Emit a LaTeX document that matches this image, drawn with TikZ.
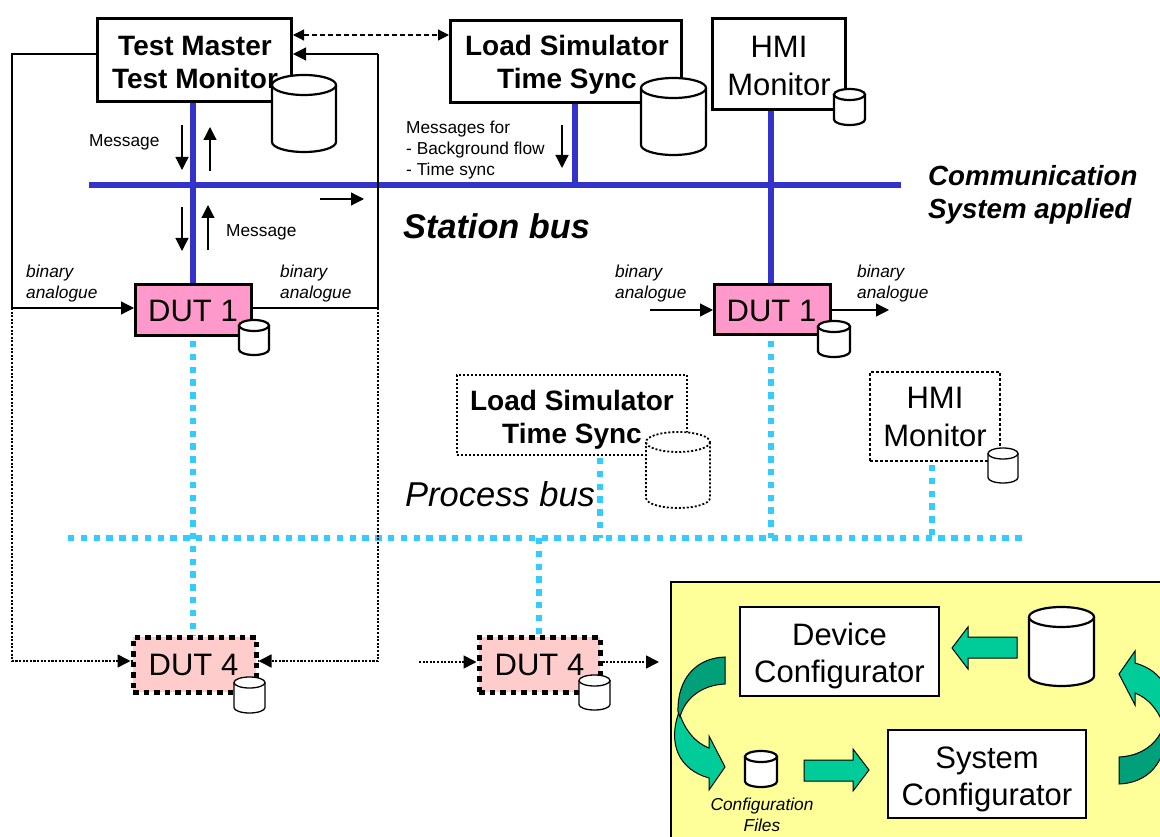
\documentclass[tikz,border=0pt]{standalone}
\usepackage{fontspec}
\setmainfont{Liberation Sans}
\usetikzlibrary{arrows.meta}
\definecolor{busblue}{HTML}{3333CC}
\definecolor{buscyan}{HTML}{33CCFF}
\definecolor{dutpink}{HTML}{FF99CC}
\definecolor{dutrose}{HTML}{FFCCCC}
\definecolor{cfgyellow}{HTML}{FFFF99}
\definecolor{arrowlight}{HTML}{00CC99}
\definecolor{arrowdark}{HTML}{00A07A}
\tikzset{
  tip/.style={-{Triangle[length=13pt,width=13pt]}},
  thinline/.style={draw=black,line width=1.2pt},
  flow/.style={thinline,tip},
  dotline/.style={draw=black,line width=1.6pt,dash pattern=on 2pt off 1.6pt},
  stationbus/.style={draw=busblue,line width=6pt},
  processbus/.style={draw=buscyan,line width=6pt,dash pattern=on 6.4pt off 6.4pt},
  boxbase/.style={draw=black,fill=white,inner sep=0pt},
  solidframe/.style={boxbase,line width=3pt},
  dotframe/.style={boxbase,line width=1.8pt,dash pattern=on 2pt off 2pt},
  dashframe/.style={boxbase,line width=1.8pt,dash pattern=on 3pt off 2pt},
  dutone/.style={boxbase,fill=dutpink,line width=3pt},
  dutfour/.style={boxbase,fill=dutrose,line width=5pt,dash pattern=on 5.5pt off 5pt},
  cfgbox/.style={boxbase,line width=1.2pt},
  boldtext/.style={inner sep=0pt,align=center,font=\fontsize{28}{33}\selectfont\bfseries},
  bigtext/.style={inner sep=0pt,align=center,font=\fontsize{31}{38}\selectfont},
  cfgtext/.style={inner sep=0pt,align=center,font=\fontsize{31}{37}\selectfont},
  small/.style={inner sep=0pt,anchor=west,align=left,font=\fontsize{17.3}{21}\selectfont},
  smallit/.style={small,font=\fontsize{17.3}{21}\selectfont\itshape},
  blockarrow/.style={draw=black,line width=1pt,fill=arrowlight,line join=miter},
  blockdark/.style={draw=black,line width=1pt,fill=arrowdark,line join=miter},
  cyl/.style={draw=black,fill=white,line width=2.2pt},
  cylthin/.style={draw=black,fill=white,line width=1.3pt},
  cyldot/.style={draw=black,fill=white,line width=1.8pt,dash pattern=on 2pt off 2pt},
}
% left x, top y, width, height, cap half height, style
\newcommand{\drum}[6]{%
  \path[#6] (#1,#2+#5) -- (#1,#2+#4-#5) arc[start angle=180,end angle=0,x radius=#3/2,y radius=#5]
     -- (#1+#3,#2+#5);
  \path[#6] (#1+#3/2,#2+#5) circle[x radius=#3/2,y radius=#5];
}
\begin{document}
\begin{tikzpicture}[x=1pt,y=-1pt]
\useasboundingbox (0,0) rectangle (1160,837);
\clip (0,0) rectangle (1160,837);

% named junctions
\coordinate (busW) at (89,185);
\coordinate (busE) at (901,185);
\coordinate (busB) at (575,185);
\coordinate (pbW) at (68,538);
\coordinate (pbE) at (1022,538);
\coordinate (lt) at (12,54);
\coordinate (lm) at (12,308);
\coordinate (lb) at (12,661);
\coordinate (rt) at (378,54);
\coordinate (rm) at (378,308);
\coordinate (rb) at (378,661);

% buses
\draw[stationbus] (busW) -- (busE);
\draw[stationbus] (193,102) -- (193,283);
\draw[stationbus] (575,102) -- (busB);
\draw[stationbus] (771,109) -- (771,283);

\draw[processbus] (193,341) -- (193,636);
\draw[processbus] (771,341) -- (771,538);
\draw[processbus] (600,458) -- (600,538);
\draw[processbus] (932,465) -- (932,538);
\draw[processbus] (539,538) -- (539,636);
\draw[processbus] (pbW) -- (pbE);

% thin frame lines
\draw[thinline] (97,54) -- (lt) -- (lm);
\draw[thinline] (253,308) -- (rm) -- (rt);
\draw[dotline] (lm) -- (lb) -- (133,661);
\draw[dotline] (rm) -- (rb) -- (258,661);

% boxes
\node[solidframe,minimum width=194pt,minimum height=83pt] (tm) at (194.5,60) {};
\node[boldtext] (tmt) at (195,62.5) {Test Master\\Test Monitor};
\node[solidframe,minimum width=231pt,minimum height=82pt] (ls) at (566,61.5) {};
\node[boldtext] (lst) at (567,65) {Load Simulator\\Time Sync};
\node[solidframe,minimum width=133pt,minimum height=91pt] (hmi) at (779,64) {};
\node[bigtext] (hmit) at (779,65.5) {HMI\\Monitor};
\node[dutone,minimum width=116pt,minimum height=51pt] (d1a) at (193.5,310) {};
\node[bigtext] (d1at) at (193,311) {DUT 1};
\node[dutone,minimum width=116pt,minimum height=50pt] (d1b) at (772.5,309.5) {};
\node[bigtext] (d1bt) at (771.5,311) {DUT 1};
\node[dotframe,minimum width=230pt,minimum height=80pt] (ls2) at (572,415) {};
\node[boldtext] (ls2t) at (572,419.5) {Load Simulator\\Time Sync};
\node[dashframe,minimum width=130pt,minimum height=89pt] (hmi2) at (935,416.5) {};
\node[bigtext] (hmi2t) at (935,416.5) {HMI\\Monitor};
\node[dutfour,minimum width=123pt,minimum height=55pt] (d4a) at (194.5,664.5) {};
\node[bigtext] (d4at) at (193.5,665) {DUT 4};
\node[dutfour,minimum width=121pt,minimum height=55pt] (d4b) at (539.5,664.5) {};
\node[bigtext] (d4bt) at (539.5,665) {DUT 4};

% connectors to boxes
\draw[flow] (rt) -- (tm.east |- rt);
\draw[thinline,dash pattern=on 5pt off 3pt,{Triangle[length=11pt,width=11pt]}-{Triangle[length=11pt,width=11pt]}] (tm.east |- 0,35) -- (ls.west |- 0,35);
\draw[flow] (lm) -- (d1a.west |- lm);
\draw[flow,dotline] (lb) -- (d4a.west |- lb);
\draw[flow,dotline] (rb) -- (d4a.east |- rb);
\coordinate (inC) at (419,662);
\coordinate (outC) at (659,662);
\draw[flow,dotline] (inC) -- (d4b.west |- inC);
\draw[flow,dotline] (d4b.east |- outC) -- (outC);
\coordinate (inD) at (650,310);
\coordinate (outD) at (889,310);
\draw[flow] (inD) -- (d1b.west |- inD);
\draw[flow] (d1b.east |- outD) -- (outD);

% message arrows
\coordinate (m1a) at (182,125); \coordinate (m1b) at (182,170);
\coordinate (m2a) at (210,171); \coordinate (m2b) at (210,127);
\coordinate (m3a) at (182,207); \coordinate (m3b) at (182,251);
\coordinate (m4a) at (208,250); \coordinate (m4b) at (208,205);
\coordinate (m5a) at (320,199); \coordinate (m5b) at (364,199);
\coordinate (m6a) at (562,125); \coordinate (m6b) at (562,168);
\draw[flow] (m1a) -- (m1b);
\draw[flow] (m2a) -- (m2b);
\draw[flow] (m3a) -- (m3b);
\draw[flow] (m4a) -- (m4b);
\draw[flow] (m5a) -- (m5b);
\draw[flow] (m6a) -- (m6b);

% drums
\drum{272}{75}{64}{77}{10}{cyl}
\drum{641}{78}{65}{77}{10}{cyl}
\drum{834}{89}{31}{36}{5.5}{cyl}
\drum{239}{320}{30}{35}{5.5}{cyl}
\drum{818}{321}{32}{36}{5.5}{cyl}
\drum{646}{432}{64}{76}{10}{cyldot}
\drum{988}{448}{30}{35}{5.5}{cylthin}
\drum{234}{677}{31}{36}{5.5}{cylthin}
\drum{579}{675}{31}{35}{5.5}{cylthin}

% labels
\node[small] (t1) at (89,142) {Message};
\node[small] (t2) at (226,232) {Message};
\node[small,align=left] (t3) at (406,150) {Messages for\\- Background flow\\- Time sync};
\node[smallit] (t4) at (26,284) {binary\\analogue};
\node[smallit] (t5) at (280,284) {binary\\analogue};
\node[smallit] (t6) at (615,284) {binary\\analogue};
\node[smallit] (t7) at (857,284) {binary\\analogue};
\node[inner sep=0pt,anchor=west,font=\fontsize{34.3}{40}\selectfont\bfseries\itshape] (t8) at (403,226.5) {Station bus};
\node[inner sep=0pt,anchor=west,align=left,font=\fontsize{27.7}{32.5}\selectfont\bfseries\itshape] (t9) at (928,195) {Communication\\System applied};
\node[inner sep=0pt,anchor=west,font=\fontsize{34.5}{40}\selectfont\itshape] (t10) at (405,494) {Process bus};

% configuration panel
\path[draw=black,line width=1.2pt,fill=cfgyellow] (671,582) rectangle (1170,850);
\node[cfgbox,minimum width=199pt,minimum height=89pt] (dc) at (839.5,651.5) {};
\node[cfgtext] (dct) at (839.5,655.5) {Device\\Configurator};
\node[cfgbox,minimum width=198pt,minimum height=88pt] (sc) at (987,774) {};
\node[cfgtext] (sct) at (987,779) {System\\Configurator};
\drum{1029}{607}{65}{79}{10}{cyl}
\drum{745}{751}{32}{36}{5.5}{cyl}
\node[smallit,anchor=center,align=center] (t11) at (762,814.5) {Configuration\\Files};

% straight block arrows
\path[blockarrow] (1017,637) -- (968,637) -- (968,627) -- (952,648) -- (968,669) -- (968,658) -- (1017,658) -- cycle;
\path[blockarrow] (804,760) -- (853,760) -- (853,749) -- (869,770) -- (853,791) -- (853,781) -- (804,781) -- cycle;

% curved block arrows
\path[blockarrow] (679,712) .. controls (667,745) and (680,770) .. (709,778) -- (709,790) -- (725,767) -- (709,736)
   -- (709,748) .. controls (696,743) and (685,731) .. (679,712) -- cycle;
\path[blockdark] (725,657) .. controls (695,658) and (677,680) .. (678,712)
   .. controls (679,715) and (680,716) .. (680,717) .. controls (685,698) and (702,685) .. (725,684) -- cycle;

\path[blockarrow] (1165,729) .. controls (1177,696) and (1164,671) .. (1135,663) -- (1135,651) -- (1119,674) -- (1135,705)
   -- (1135,693) .. controls (1148,698) and (1159,710) .. (1165,729) -- cycle;
\path[blockdark] (1119,784) .. controls (1149,783) and (1167,761) .. (1166,729)
   .. controls (1165,726) and (1164,725) .. (1164,724) .. controls (1159,743) and (1142,756) .. (1119,757) -- cycle;
\end{tikzpicture}
\end{document}
